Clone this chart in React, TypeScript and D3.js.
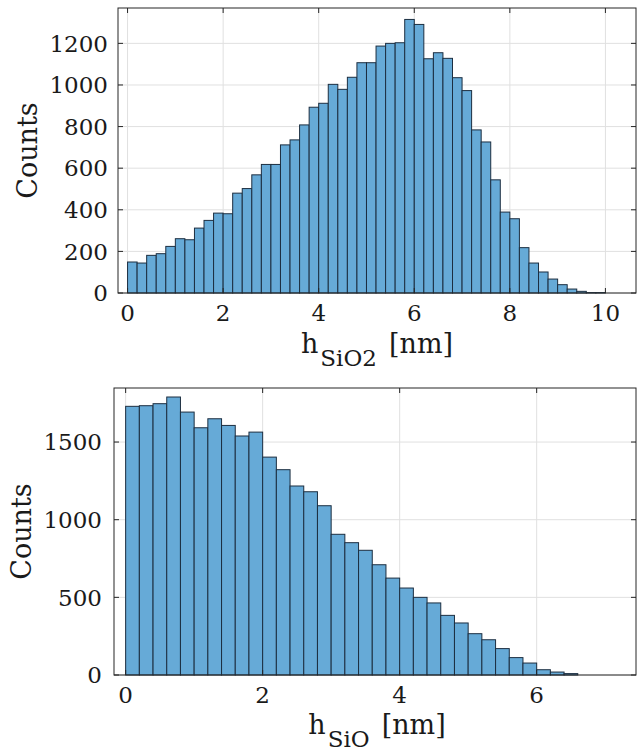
import React from "react";
import * as d3 from "d3";

const binWidth = 0.2;

// Top histogram: h_SiO2 counts per 0.2 nm bin starting at 0
const sio2Counts = [
  149, 144, 181, 189, 224, 261, 256, 312, 349, 384,
  381, 480, 502, 568, 618, 618, 712, 736, 808, 893,
  912, 1003, 979, 1037, 1107, 1107, 1187, 1200, 1203, 1315,
  1291, 1126, 1155, 1128, 1035, 973, 784, 726, 544, 389,
  357, 218, 144, 101, 67, 40, 19, 8, 2, 2,
];

// Bottom histogram: h_SiO counts per 0.2 nm bin starting at 0
const sioCounts = [
  1730, 1734, 1747, 1790, 1693, 1592, 1650, 1607, 1539, 1564,
  1403, 1322, 1217, 1180, 1090, 906, 852, 803, 710, 624,
  560, 500, 464, 384, 335, 266, 227, 170, 112, 77,
  34, 19, 9,
];

const topXTicks = [0, 2, 4, 6, 8, 10];
const topYTicks = [0, 200, 400, 600, 800, 1000, 1200];
const botXTicks = [0, 2, 4, 6];
const botYTicks = [0, 500, 1000, 1500];

const FONT = "'DejaVu Serif', serif";
const AXIS = "#262626";
const GRID = "#e0e0e0";
const FILL = "#66aad7";
const EDGE = "#1c2e40";

type PanelProps = {
  counts: number[];
  xDomain: [number, number];
  yDomain: [number, number];
  left: number;
  right: number;
  top: number;
  bottom: number;
  xTicks: number[];
  yTicks: number[];
  tickLabelY: number;
  yLabelRight: number;
  countsX: number;
  labelX: number;
  labelBaseline: number;
  sub: string;
};

function Panel(p: PanelProps) {
  const x = d3.scaleLinear().domain(p.xDomain).range([p.left, p.right]);
  const y = d3.scaleLinear().domain(p.yDomain).range([p.bottom, p.top]);
  const tl = 5;
  const cy = (p.top + p.bottom) / 2;
  return (
    <g>
      {p.xTicks.map((t) => (
        <line key={"gx" + t} x1={x(t)} x2={x(t)} y1={p.top} y2={p.bottom} stroke={GRID} strokeWidth={1} />
      ))}
      {p.yTicks.map((t) => (
        <line key={"gy" + t} x1={p.left} x2={p.right} y1={y(t)} y2={y(t)} stroke={GRID} strokeWidth={1} />
      ))}
      {p.counts.map((c, i) => (
        <rect
          key={"b" + i}
          x={x(i * binWidth)}
          width={x((i + 1) * binWidth) - x(i * binWidth)}
          y={y(c)}
          height={y(0) - y(c)}
          fill={FILL}
          stroke={EDGE}
          strokeWidth={1}
        />
      ))}
      <rect x={p.left} y={p.top} width={p.right - p.left} height={p.bottom - p.top} fill="none" stroke={AXIS} strokeWidth={1} />
      {p.xTicks.map((t) => (
        <g key={"tx" + t}>
          <line x1={x(t)} x2={x(t)} y1={p.bottom} y2={p.bottom - tl} stroke={AXIS} />
          <line x1={x(t)} x2={x(t)} y1={p.top} y2={p.top + tl} stroke={AXIS} />
          <text x={x(t)} y={p.tickLabelY} textAnchor="middle" fontFamily={FONT} fontSize={23} fill="#1a1a1a">
            {t}
          </text>
        </g>
      ))}
      {p.yTicks.map((t) => (
        <g key={"ty" + t}>
          <line x1={p.left} x2={p.left + tl} y1={y(t)} y2={y(t)} stroke={AXIS} />
          <line x1={p.right} x2={p.right - tl} y1={y(t)} y2={y(t)} stroke={AXIS} />
          <text x={p.yLabelRight} y={y(t)} dy="0.36em" textAnchor="end" fontFamily={FONT} fontSize={23} fill="#1a1a1a">
            {t}
          </text>
        </g>
      ))}
      <text
        transform={`translate(${p.countsX},${cy}) rotate(-90)`}
        textAnchor="middle"
        dy="0.35em"
        fontFamily={FONT}
        fontSize={27}
        fill="#1a1a1a"
      >
        Counts
      </text>
      <text x={p.labelX} y={p.labelBaseline} textAnchor="middle" fontFamily={FONT} fontSize={27} fill="#1a1a1a">
        h
        <tspan dx={2} dy={13} fontSize={23}>{p.sub}</tspan>
        <tspan dx={12} dy={-13}>[nm]</tspan>
      </text>
    </g>
  );
}

export default function App() {
  return (
    <svg
      width={637}
      height={751}
      style={{ position: "absolute", left: 0, top: 0, display: "block", background: "#fff" }}
    >
      <rect x={0} y={0} width={637} height={751} fill="#fff" />
      <Panel
        counts={sio2Counts}
        xDomain={[-0.2, 10.64]}
        yDomain={[0, 1370]}
        left={118}
        right={636}
        top={8}
        bottom={293}
        xTicks={topXTicks}
        yTicks={topYTicks}
        tickLabelY={321}
        yLabelRight={108}
        countsX={28}
        labelX={377}
        labelBaseline={353}
        sub="SiO2"
      />
      <Panel
        counts={sioCounts}
        xDomain={[-0.17, 7.45]}
        yDomain={[0, 1848]}
        left={114}
        right={636}
        top={388}
        bottom={675}
        xTicks={botXTicks}
        yTicks={botYTicks}
        tickLabelY={703}
        yLabelRight={102}
        countsX={22}
        labelX={377}
        labelBaseline={734}
        sub="SiO"
      />
    </svg>
  );
}
